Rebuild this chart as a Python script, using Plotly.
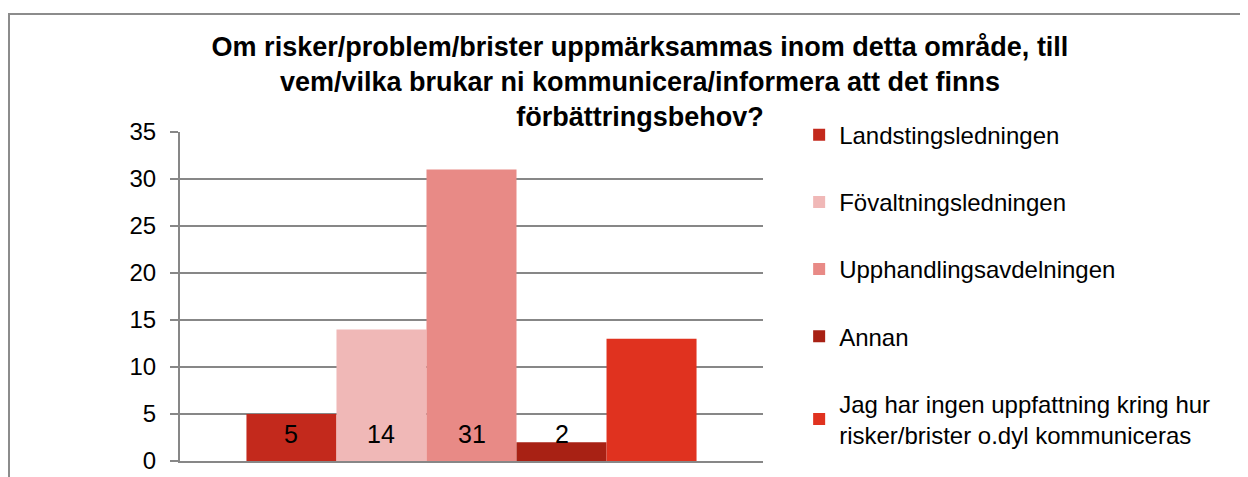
import plotly.graph_objects as go

series_names = [
    "Landstingsledningen",
    "Fövaltningsledningen",
    "Upphandlingsavdelningen",
    "Annan",
    "Jag har ingen uppfattning kring hur<br>risker/brister o.dyl kommuniceras",
]
values = [5, 14, 31, 2, 13]
show_label = [True, True, True, True, False]
colors = ["#C3291C", "#F0B8B7", "#E88A86", "#A82114", "#E0321F"]
y_ticks = [0, 5, 10, 15, 20, 25, 30, 35]
title_text = ("Om risker/problem/brister uppmärksammas inom detta område, till<br>"
              "vem/vilka brukar ni kommunicera/informera att det finns<br>"
              "förbättringsbehov?")

FONT = "Liberation Sans, Arial, sans-serif"
GRID = "#878787"
bargap = 0.228

# page body adds an 8px margin, so the figure is sized to fit the window
W, H = 1240, 469
L, R, T, B = 172, 485, 124, 16
PW, PH = W - L - R, H - T - B

fig = go.Figure()
for i, (name, v, c) in enumerate(zip(series_names, values, colors)):
    fig.add_trace(go.Bar(
        x=[0], y=[v], name=name, marker=dict(color=c, line=dict(width=0)),
        legendgroup=f"g{i}", hoverinfo="y+name",
    ))

n = len(values)
bw = (1 - bargap) / n
for i, v in enumerate(values):
    if not show_label[i]:
        continue
    xc = -(1 - bargap) / 2 + (i + 0.5) * bw
    fig.add_annotation(x=xc, y=0, xref="x", yref="y", text=str(v),
                       showarrow=False, yshift=27, yanchor="middle",
                       font=dict(family=FONT, size=25, color="#000000"))

fig.update_layout(
    width=W, height=H,
    margin=dict(l=L, r=R, t=T, b=B, autoexpand=False),
    paper_bgcolor="white", plot_bgcolor="white",
    barmode="group", bargap=bargap, bargroupgap=0,
    font=dict(family=FONT, color="#000000"),
    title=dict(text="<b>" + title_text + "</b>", x=632 / W, xanchor="center",
               y=1 - 48 / H, yanchor="top",
               font=dict(family=FONT, size=27, color="#000000")),
    showlegend=True,
    legend=dict(x=1.062, xanchor="left", y=1.059, yanchor="top",
                font=dict(family=FONT, size=24, color="#000000"),
                tracegroupgap=33, bgcolor="rgba(0,0,0,0)", maxheight=460),
    xaxis=dict(range=[-0.5, 0.5], showticklabels=False, ticks="", showgrid=False,
               showline=True, linecolor=GRID, linewidth=2, zeroline=False, fixedrange=True),
    yaxis=dict(range=[0, 35], tickvals=y_ticks, ticks="outside", ticklen=8,
               tickcolor=GRID, tickwidth=2, showgrid=True, gridcolor=GRID, gridwidth=2,
               showline=True, linecolor=GRID, linewidth=2, zeroline=False,
               tickfont=dict(family=FONT, size=24, color="#000000"), ticklabelstandoff=9),
)

# outer chart border
fig.add_shape(type="rect", xref="paper", yref="paper",
              x0=(1 - L) / PW, x1=(W + 20 - L) / PW,
              y0=-30 / PH, y1=(PH + T - 6) / PH,
              line=dict(color="#8C8C8C", width=2), fillcolor="rgba(0,0,0,0)", layer="below")

fig.write_html("out.html")
